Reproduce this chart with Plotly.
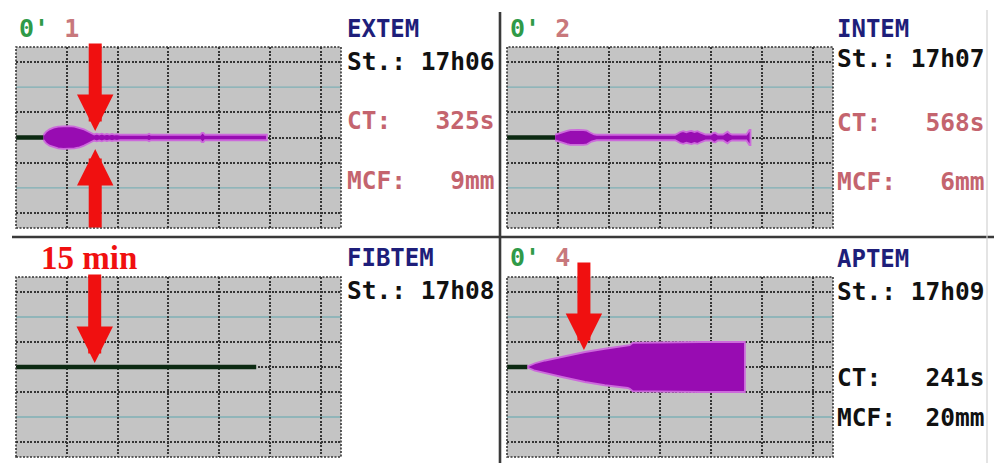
import plotly.graph_objects as go

# ---------------- data ----------------
# time axis in minutes, amplitude in mm (full clot firmness, drawn symmetric)
channels = ["EXTEM", "INTEM", "FIBTEM", "APTEM"]
start_times = ["17h06", "17h07", "17h08", "17h09"]
ct_seconds = [325, 568, None, 241]
mcf_mm = [9, 6, None, 20]

extem_t = [5.42, 5.9, 6.6, 7.4, 8.3, 9.3, 10.4, 11.5, 12.5, 13.4, 14.2, 14.9, 15.4,
           15.9, 16.4, 16.9, 17.4, 17.9, 18.4, 18.9, 19.4, 19.9, 20.5, 25.8, 26.2,
           26.6, 27.0, 36.3, 36.6, 36.9, 37.2, 49.4]
extem_amp = [2.0, 4.5, 6.5, 7.8, 8.6, 9.0, 9.0, 8.6, 7.8, 6.5, 4.8, 3.2, 2.4,
             3.0, 2.4, 3.0, 2.3, 2.9, 2.3, 2.8, 2.3, 2.6, 2.2, 2.2, 2.9,
             2.2, 2.2, 2.2, 3.6, 3.6, 2.2, 2.2]

intem_t = [9.47, 10.0, 10.6, 11.2, 11.8, 12.4, 13.0, 14.0, 15.0, 15.7, 16.2, 16.6,
           17.1, 17.6, 33.0, 33.5, 34.0, 34.6, 35.2, 35.7, 36.2, 36.8, 37.4, 38.0,
           38.5, 39.0, 40.0, 40.5, 40.9, 41.4, 42.4, 42.9, 43.3, 43.7, 44.2, 47.0,
           47.3, 47.6, 47.8]
intem_amp = [2.2, 3.0, 4.0, 4.4, 5.2, 5.8, 6.0, 6.0, 5.8, 5.4, 4.2, 3.2,
             2.4, 2.2, 2.2, 3.2, 4.4, 5.0, 4.2, 4.8, 5.2, 4.4, 5.0, 3.8,
             3.0, 2.4, 2.4, 3.6, 3.8, 2.4, 2.4, 3.4, 4.6, 3.2, 2.4, 2.4,
             4.5, 6.0, 6.0]

fibtem_end = 47.3

aptem_t = [4.02, 5.5, 7.5, 10.8, 15.3, 19.2, 23.7, 24.1, 24.7, 30.0, 38.0, 46.7]
aptem_amp = [0.5, 3.0, 5.2, 8.0, 12.0, 14.6, 16.8, 17.5, 19.4, 19.8, 20.0, 20.0]

arrow_times = [15.6, 15.6, 15.5, 15.1]   # red markers at 15 min

# ---------------- styling ----------------
W, H = 994, 463
BG = "#c4c4c4"
GRID = "#353535"
TEAL = "#7fb0b6"
PURPLE = "#980cb2"
PURPLE_EDGE = "#cc6adb"
BASE = "#0c2a12"
RED = "#f01010"
MONO = "DejaVu Sans Mono"


def px(x):
    return x / W


def py(y):
    return 1 - y / H


panel_dom = [
    ((16, 341), (47, 228)),
    ((507, 833), (47, 228)),
    ((16, 341), (277, 457)),
    ((507, 833), (277, 457)),
]

fig = go.Figure()
layout_axes = {}
shapes = []
annotations = []

for i, ((x0, x1), (y0, y1)) in enumerate(panel_dom):
    n = "" if i == 0 else str(i + 1)
    layout_axes["xaxis" + n] = dict(
        domain=[px(x0), px(x1)], range=[0, 64], anchor="y" + n,
        showticklabels=False, ticks="", zeroline=False, showline=False,
        showgrid=True, tick0=0, dtick=10, gridcolor=GRID, griddash="2px,1.5px",
        gridwidth=1.6, fixedrange=True)
    layout_axes["yaxis" + n] = dict(
        domain=[py(y1), py(y0)], range=[-36, 36], anchor="x" + n,
        showticklabels=False, ticks="", zeroline=False, showline=False,
        showgrid=True, tickvals=[-30, -10, 0, 10, 30], gridcolor=GRID,
        griddash="2px,1.5px", gridwidth=1.6, fixedrange=True)
    for yv in (-20, 20):
        shapes.append(dict(type="line", xref="x%s domain" % n, yref="y" + n,
                           x0=0, x1=1, y0=yv, y1=yv, layer="below",
                           line=dict(color=TEAL, width=1.3)))
    shapes.append(dict(type="rect", xref="x%s domain" % n, yref="y%s domain" % n,
                       x0=0, x1=1, y0=0, y1=1,
                       line=dict(color=GRID, width=1.6, dash="2px,1.5px")))


def band(t, amp, n):
    xs = list(t) + list(t)[::-1]
    ys = [a / 2 for a in amp] + [-a / 2 for a in amp][::-1]
    return go.Scatter(x=xs, y=ys, xaxis="x" + n, yaxis="y" + n, mode="lines",
                      fill="toself", fillcolor=PURPLE,
                      line=dict(color=PURPLE_EDGE, width=1.8),
                      hoverinfo="skip", showlegend=False)


def baseline(t_end, n):
    return go.Scatter(x=[0, t_end], y=[0, 0], xaxis="x" + n, yaxis="y" + n,
                      mode="lines", line=dict(color=BASE, width=4.5),
                      hoverinfo="skip", showlegend=False)


fig.add_trace(baseline(ct_seconds[0] / 60, ""))
fig.add_trace(band(extem_t, extem_amp, ""))
fig.add_trace(baseline(ct_seconds[1] / 60, "2"))
fig.add_trace(band(intem_t, intem_amp, "2"))
fig.add_trace(baseline(fibtem_end, "3"))
fig.add_trace(baseline(ct_seconds[3] / 60, "4"))
fig.add_trace(band(aptem_t, aptem_amp, "4"))

# ---------------- red arrows ----------------
arrow_specs = [  # (axis suffix, tip y in mm, tail offset px)
    ("", 2.6, -89), ("", -4.6, 80), ("3", 1.6, -90), ("4", 6.8, -89),
]
for (n, ytip, ay), tx in zip(arrow_specs, arrow_times):
    annotations.append(dict(
        xref="x" + n, yref="y" + n, x=tx, y=ytip, ax=0, ay=ay, text="",
        showarrow=True, arrowhead=2, arrowsize=0.56, arrowwidth=13,
        arrowcolor=RED, standoff=0))

annotations.append(dict(xref="paper", yref="paper", x=px(88.5), y=py(257.5),
                        text="<b>15 min</b>", showarrow=False,
                        xanchor="center", yanchor="middle",
                        font=dict(family="Liberation Serif", size=33, color=RED)))

# ---------------- panel labels & readouts ----------------
GREEN = "#2f9a48"
PINK = "#c8787c"
NAVY = "#1e1e7a"
VAL_PINK = "#c4646e"

run_labels = ["1", "2", None, "4"]
label_pos = [(17, 28.5), (508, 28.5), None, (508, 257.5)]
for lab, pos in zip(run_labels, label_pos):
    if lab is None:
        continue
    annotations.append(dict(
        xref="paper", yref="paper", x=px(pos[0]), y=py(pos[1]),
        text="<b><span style='color:%s'>0'</span><span style='color:%s'> %s</span></b>" % (GREEN, PINK, lab),
        showarrow=False, xanchor="left", yanchor="middle",
        font=dict(family=MONO, size=25)))

col_x = [345, 835, 345, 835]
rows_y = [(29, 61, 120.5, 180), (29, 59, 122.5, 181.5),
          (258, 290, None, None), (259, 291, 377, 417)]
value_colors = [VAL_PINK, VAL_PINK, None, "#111111"]

for i in range(4):
    x = px(col_x[i])
    ty, sy, cy, my = rows_y[i]
    annotations.append(dict(xref="paper", yref="paper", x=x, y=py(ty),
                            text="<b>%s</b>" % channels[i], showarrow=False,
                            xanchor="left", yanchor="middle",
                            font=dict(family=MONO, size=24, color=NAVY)))
    annotations.append(dict(xref="paper", yref="paper", x=x, y=py(sy),
                            text="<b>St.: %s</b>" % start_times[i], showarrow=False,
                            xanchor="left", yanchor="middle",
                            font=dict(family=MONO, size=24.5, color="#111111")))
    if ct_seconds[i] is not None:
        ct_txt = "CT:" + ("%ds" % ct_seconds[i]).rjust(7)
        mcf_txt = "MCF:" + ("%dmm" % mcf_mm[i]).rjust(6)
        for txt, yy in ((ct_txt, cy), (mcf_txt, my)):
            annotations.append(dict(xref="paper", yref="paper", x=x, y=py(yy),
                                    text="<b>%s</b>" % txt.replace(" ", "&nbsp;"),
                                    showarrow=False,
                                    xanchor="left", yanchor="middle",
                                    font=dict(family=MONO, size=24.5,
                                              color=value_colors[i])))

# ---------------- frame dividers ----------------
shapes += [
    dict(type="line", xref="paper", yref="paper", x0=px(12), x1=1,
         y0=py(237), y1=py(237), line=dict(color="#3a3a3a", width=2.6)),
    dict(type="line", xref="paper", yref="paper", x0=px(500), x1=px(500),
         y0=0, y1=py(12), line=dict(color="#3a3a3a", width=2.6)),
    dict(type="line", xref="paper", yref="paper", x0=px(987), x1=px(987),
         y0=0, y1=py(10), line=dict(color="#d2d2d2", width=1.2)),
]

fig.update_layout(
    width=W, height=H, margin=dict(l=0, r=0, t=0, b=0),
    paper_bgcolor="white", plot_bgcolor=BG, showlegend=False,
    shapes=shapes, annotations=annotations, **layout_axes)

fig.write_html("out.html", config={"displayModeBar": False})
